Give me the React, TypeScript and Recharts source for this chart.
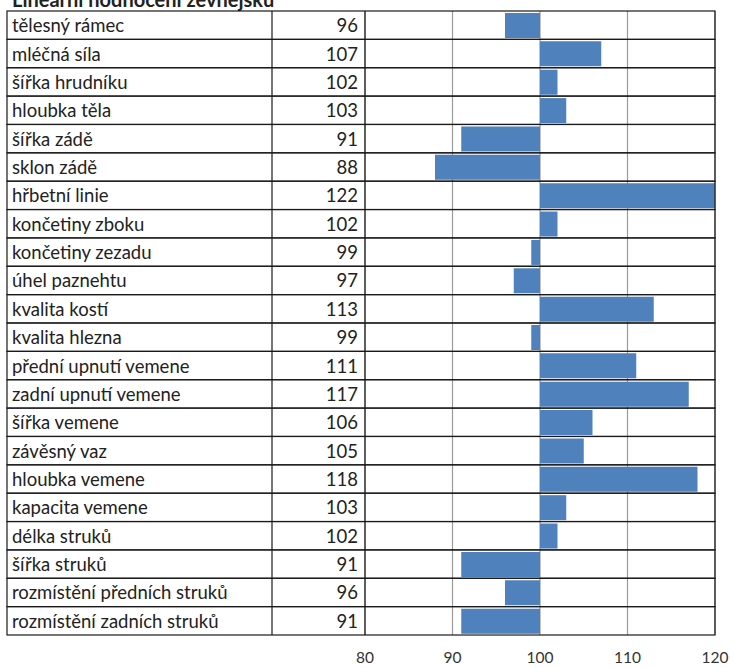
import React from 'react';
import { BarChart, Bar, XAxis, YAxis, CartesianGrid } from 'recharts';

const traits = [
  'tělesný rámec',
  'mléčná síla',
  'šířka hrudníku',
  'hloubka těla',
  'šířka zádě',
  'sklon zádě',
  'hřbetní linie',
  'končetiny zboku',
  'končetiny zezadu',
  'úhel paznehtu',
  'kvalita kostí',
  'kvalita hlezna',
  'přední upnutí vemene',
  'zadní upnutí vemene',
  'šířka vemene',
  'závěsný vaz',
  'hloubka vemene',
  'kapacita vemene',
  'délka struků',
  'šířka struků',
  'rozmístění předních struků',
  'rozmístění zadních struků',
];
const scores = [96, 107, 102, 103, 91, 88, 122, 102, 99, 97, 113, 99, 111, 117, 106, 105, 118, 103, 102, 91, 96, 91];
const xTicks = [80, 90, 100, 110, 120];
const BASE = 100;

const rows = traits.map((name, i) => ({
  name,
  score: scores[i],
  range: [Math.min(BASE, scores[i]), Math.max(BASE, scores[i])],
}));

// layout
const W = 733;
const H = 668;
const TABLE_LEFT = 7;
const COL_SPLIT = 272;
const PLOT_LEFT = 365;
const PLOT_RIGHT = 715;
const PLOT_TOP = 11;
const PLOT_BOTTOM = 635;
const ROW_H = (PLOT_BOTTOM - PLOT_TOP) / traits.length;
const FONT = 'Lato, "Open Sans", sans-serif';

const TableRow = (props: any) => {
  const { y, payload, index } = props;
  const top = y - ROW_H / 2;
  return (
    <g>
      <rect x={TABLE_LEFT} y={top} width={PLOT_RIGHT - TABLE_LEFT} height={ROW_H} fill="none" stroke="#1a1a1a" strokeWidth={1.2} />
      <line x1={COL_SPLIT} x2={COL_SPLIT} y1={top} y2={top + ROW_H} stroke="#1a1a1a" strokeWidth={1.2} />
      <line x1={PLOT_LEFT} x2={PLOT_LEFT} y1={top} y2={top + ROW_H} stroke="#1a1a1a" strokeWidth={1.2} />
      <text x={12} y={y + 7} fontSize={18.5} fill="#222" fontFamily={FONT}>
        {payload.value}
      </text>
      <text x={358} y={y + 7} fontSize={18.5} fill="#222" fontFamily={FONT} textAnchor="end">
        {scores[index]}
      </text>
    </g>
  );
};

export default function App() {
  return (
    <div style={{ position: 'absolute', left: 0, top: 0, width: W, height: H, background: '#fff', overflow: 'hidden' }}>
      <div
        style={{
          position: 'absolute',
          left: 12,
          top: -11,
          fontFamily: FONT,
          fontWeight: 700,
          fontSize: 20,
          lineHeight: '20px',
          color: '#222',
          whiteSpace: 'nowrap',
        }}
      >
        Lineární hodnocení zevnějšku
      </div>
      <BarChart
        width={W}
        height={H}
        data={rows}
        layout="vertical"
        margin={{ top: PLOT_TOP, right: W - PLOT_RIGHT, bottom: 0, left: TABLE_LEFT }}
        barCategoryGap={0}
      >
        <CartesianGrid horizontal={false} stroke="#9a9a9a" strokeWidth={1.2} />
        <XAxis
          type="number"
          domain={[80, 120]}
          ticks={xTicks}
          allowDataOverflow
          axisLine={false}
          tickLine={false}
          tickSize={0}
          tickMargin={17}
          height={H - PLOT_BOTTOM}
          tick={{ fill: '#333', fontSize: 15.5, fontFamily: FONT }}
        />
        <YAxis
          type="category"
          dataKey="name"
          width={PLOT_LEFT - TABLE_LEFT}
          interval={0}
          axisLine={false}
          tickLine={false}
          tick={TableRow}
        />
        <Bar dataKey="range" fill="#4F81BD" barSize={25} isAnimationActive={false} />
      </BarChart>
    </div>
  );
}
